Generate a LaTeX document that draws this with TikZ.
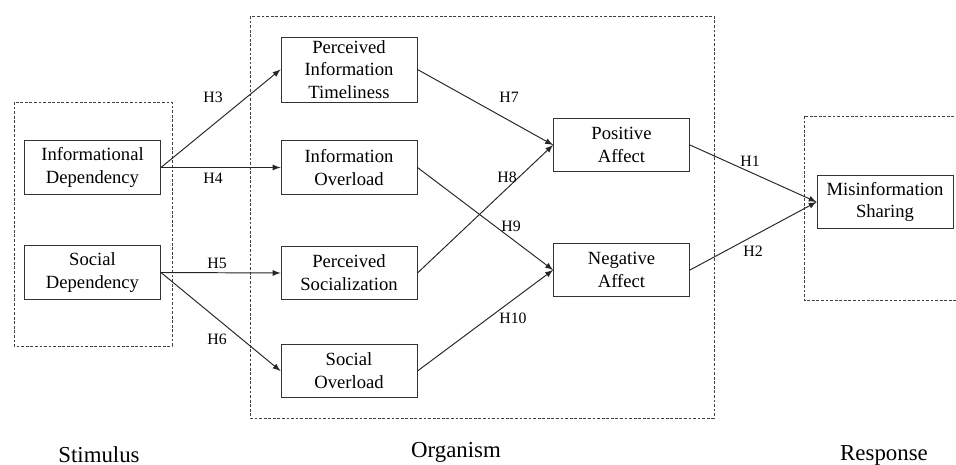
\documentclass[tikz,border=0pt]{standalone}
\usepackage{fontspec}
\setmainfont{Liberation Serif}
\begin{document}
\begin{tikzpicture}[x=0.02cm,y=-0.02cm,line width=0.55pt,
  font=\fontsize{10.6}{13}\selectfont,
  box/.style={draw=black!80,align=center,inner sep=0pt,minimum width=2.72cm,minimum height=1.07cm},
  frame/.style={draw=black!75,dash pattern=on 1.6pt off 1pt},
  hyp/.style={font=\fontsize{9}{11}\selectfont,inner sep=0pt},
  stage/.style={font=\fontsize{13}{15}\selectfont,anchor=base,inner sep=0pt}]
\useasboundingbox(0,0)rectangle(956,465);
\draw[frame](14,102)rectangle(172,346);
\draw[frame](250,16)rectangle(714,418);
\draw[frame](804,116)rectangle(960,300);
\node[box](ID) at (92.5,167.5){Informational\\Dependency};
\node[box](SD) at (92.5,272.5){Social\\Dependency};
\node[box,minimum height=1.3cm](PIT) at (349,69.5){Perceived\\Information\\Timeliness};
\node[box](IO) at (349,167.5){Information\\Overload};
\node[box](PS) at (349,273){Perceived\\Socialization};
\node[box](SO) at (349,371){Social\\Overload};
\node[box](PA) at (621.5,145){Positive\\Affect};
\node[box](NA) at (621.5,270){Negative\\Affect};
\node[box](MS) at (885,202){Misinformation\\Sharing};
\foreach \a/\b in {ID/PIT,ID/IO,SD/PS,SD/SO,PIT/PA,PS/PA,IO/NA,SO/NA,PA/MS,NA/MS}{\draw[-latex,black!85](\a.east)--(\b.west);}
\foreach \n/\x/\y in {1/750/161,2/753/251,3/213/97,4/213/178,5/217/263,6/217/339,7/509/97,8/507/177,9/511/226,10/513/318}{\node[hyp](h\n) at (\x,\y){H\n};}
\node[stage](stim) at (99,462){Stimulus};
\node[stage](org) at (456,458){Organism};
\node[stage](resp) at (884,460){Response};
\end{tikzpicture}
\end{document}
